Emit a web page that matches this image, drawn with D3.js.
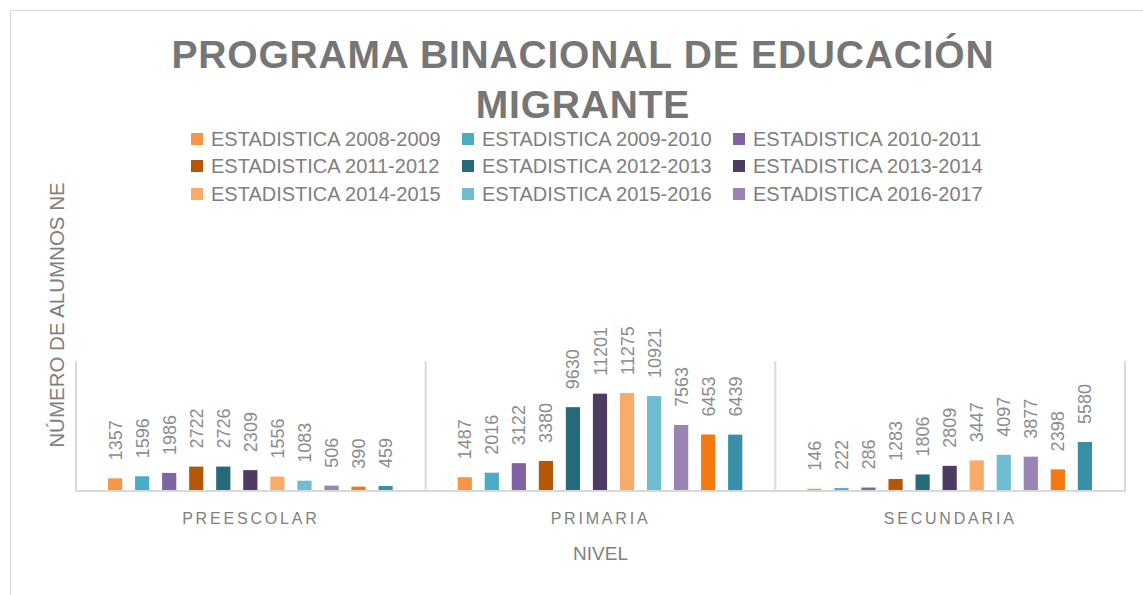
<!DOCTYPE html>
<html>
<head>
<meta charset="utf-8">
<script src="https://cdn.jsdelivr.net/npm/d3@7"></script>
<style>
  body { margin: 0; background: #fff; }
  svg { display: block; font-family: "Liberation Sans", Arial, sans-serif; }
</style>
</head>
<body>
<svg id="chart" width="1143" height="595"></svg>
<script>
// data
const niveles = ["PREESCOLAR", "PRIMARIA", "SECUNDARIA"];
const series = [
  "ESTADISTICA 2008-2009", "ESTADISTICA 2009-2010", "ESTADISTICA 2010-2011",
  "ESTADISTICA 2011-2012", "ESTADISTICA 2012-2013", "ESTADISTICA 2013-2014",
  "ESTADISTICA 2014-2015", "ESTADISTICA 2015-2016", "ESTADISTICA 2016-2017",
  "ESTADISTICA 2017-2018", "ESTADISTICA 2018-2019"
];
const legendCount = 9;  // only the first 9 show in the legend
const preescolar = [1357, 1596, 1986, 2722, 2726, 2309, 1556, 1083, 506, 390, 459];
const primaria   = [1487, 2016, 3122, 3380, 9630, 11201, 11275, 10921, 7563, 6453, 6439];
const secundaria = [146, 222, 286, 1283, 1806, 2809, 3447, 4097, 3877, 2398, 5580];
const colors = ["#F79646", "#4BACC6", "#8064A2", "#B65708", "#276A7C", "#4D3B62",
                "#F9AB6B", "#6FBDD1", "#9B83B4", "#F27A10", "#3790A8"];

const valuesByNivel = [preescolar, primaria, secundaria];
const data = niveles.map((n, i) => ({ nivel: n, values: valuesByNivel[i] }));

const svg = d3.select("#chart");
const textGray = "#7f7f7f";
const lineGray = "#d9d9d9";

// chart border
svg.append("rect")
    .attr("x", 10.5).attr("y", 10.5)
    .attr("width", 1160).attr("height", 620)
    .attr("fill", "none").attr("stroke", lineGray);

// title
const title = svg.append("text")
    .attr("text-anchor", "middle")
    .attr("fill", "#767676")
    .attr("font-size", 39)
    .attr("font-weight", "bold")
    .attr("letter-spacing", 0.8);
title.append("tspan").attr("x", 583).attr("y", 68).text("PROGRAMA BINACIONAL DE EDUCACIÓN");
title.append("tspan").attr("x", 583).attr("y", 118).text("MIGRANTE");

// legend
const legCols = [191, 462, 733];
const legRows = [139, 166, 194];
const legend = svg.append("g");
series.slice(0, legendCount).forEach((s, i) => {
    const g = legend.append("g")
        .attr("transform", `translate(${legCols[i % 3]},${legRows[Math.floor(i / 3)]})`);
    g.append("rect").attr("x", 0).attr("y", -6).attr("width", 12).attr("height", 12)
        .attr("fill", colors[i]);
    g.append("text").attr("x", 20).attr("y", 7)
        .attr("font-size", 20).attr("fill", textGray).text(s);
});

// plot area
const plot = { left: 76, right: 1125, top: 361, bottom: 490 };

const x0 = d3.scaleBand().domain(niveles).range([plot.left, plot.right]);
const x1 = d3.scaleBand().domain(series)
    .range([32, x0.bandwidth() - 33]).paddingInner(0.475);
const y = d3.scaleLinear().domain([0, 15000]).range([plot.bottom, plot.top]);

// category separators
const bounds = niveles.map(n => x0(n)).concat([plot.right]);
svg.append("g").selectAll("line").data(bounds).join("line")
    .attr("x1", d => d).attr("x2", d => d)
    .attr("y1", plot.top).attr("y2", plot.bottom)
    .attr("stroke", lineGray).attr("stroke-width", 2);

const groups = svg.append("g").selectAll("g").data(data).join("g")
    .attr("transform", d => `translate(${x0(d.nivel)},0)`);

groups.selectAll("rect")
    .data(d => d.values.map((v, i) => ({ s: series[i], v, i })))
    .join("rect")
    .attr("x", d => x1(d.s))
    .attr("y", d => y(d.v))
    .attr("width", x1.bandwidth())
    .attr("height", d => plot.bottom - y(d.v))
    .attr("fill", d => colors[d.i]);

groups.selectAll("text.val")
    .data(d => d.values.map((v, i) => ({ s: series[i], v, i })))
    .join("text")
    .attr("class", "val")
    .attr("transform", d => `translate(${x1(d.s) + x1.bandwidth() / 2 + 6.5},${y(d.v) - 18}) rotate(-90)`)
    .attr("font-size", 18)
    .attr("fill", "#8c8c8c")
    .text(d => d.v);

// baseline
svg.append("line")
    .attr("x1", plot.left - 1).attr("x2", plot.right + 1)
    .attr("y1", plot.bottom + 1).attr("y2", plot.bottom + 1)
    .attr("stroke", lineGray).attr("stroke-width", 2);

// category labels
svg.append("g").selectAll("text").data(niveles).join("text")
    .attr("x", d => x0(d) + x0.bandwidth() / 2)
    .attr("y", 524)
    .attr("text-anchor", "middle")
    .attr("font-size", 16)
    .attr("letter-spacing", 2.8)
    .attr("fill", textGray)
    .text(d => d);

// axis titles
svg.append("text")
    .attr("x", plot.left + (plot.right - plot.left) / 2).attr("y", 560)
    .attr("text-anchor", "middle")
    .attr("font-size", 19).attr("fill", textGray)
    .text("NIVEL");

svg.append("text")
    .attr("transform", "translate(64,315) rotate(-90)")
    .attr("text-anchor", "middle")
    .attr("font-size", 20.5).attr("fill", textGray)
    .text("NÚMERO DE ALUMNOS NE");
</script>
</body>
</html>
